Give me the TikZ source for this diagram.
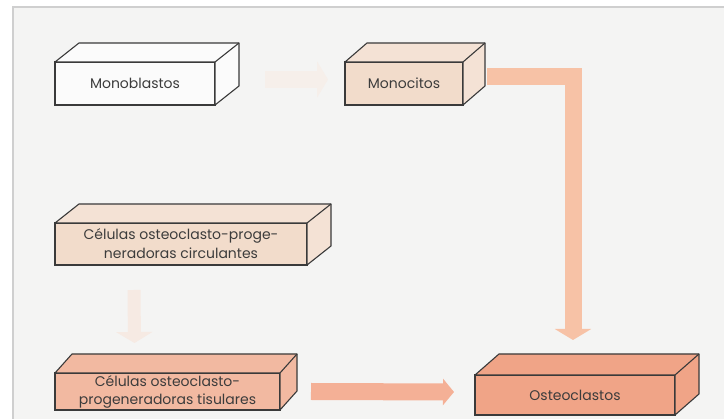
\documentclass[tikz,border=0pt]{standalone}
\usepackage{fontspec}
\setmainfont{Poppins}
\usetikzlibrary{calc,arrows.meta}
\definecolor{bg}{HTML}{F4F4F3}
\definecolor{frameline}{HTML}{CFCFCF}
\definecolor{edge}{HTML}{3A3A3A}
\definecolor{textc}{HTML}{3C3C3C}
\definecolor{boxwhite}{HTML}{FBFBFB}
\definecolor{peach}{HTML}{F2DCCB}
\definecolor{peachtop}{HTML}{F4E2D5}
\definecolor{salmonL}{HTML}{F2B9A1}
\definecolor{salmon}{HTML}{F0A487}
\definecolor{arrowA}{HTML}{F7C2A6}
\definecolor{arrowB}{HTML}{F4B096}
\definecolor{faintA}{HTML}{F6EFEA}
\definecolor{faintB}{HTML}{F6EAE3}
\tikzset{
  cube/.style={draw=edge, line width=1.1pt, rectangle, inner sep=2pt, outer sep=0pt,
    align=center, font=\fontsize{14}{19}\selectfont, text=textc},
  face/.style={draw=edge, line width=1.1pt, line join=round},
  flow/.style={line width=17pt, -{Triangle[width=36pt,length=11pt]}},
}
\newcommand\cubeback[4]{%
  \filldraw[face, fill=#4] (#1.north west) -- ++(#2,#3) -- ($(#1.north east)+(#2,#3)$)
    -- ($(#1.south east)+(#2,#3)$) -- (#1.south east) -- (#1.north east) -- cycle;
  \draw[face] (#1.north east) -- ++(#2,#3);
}
\begin{document}
\begin{tikzpicture}[x=1pt,y=-1pt]
\useasboundingbox (0,0) rectangle (724,419);
\fill[white] (0,0) rectangle (724,419);
\fill[bg] (13,7) rectangle (724,419);
\draw[frameline, line width=1.6pt] (13,419) -- (13,7) -- (724,7);

% boxes
\node[cube, fill=boxwhite, minimum width=160pt, minimum height=43pt] (mb) at (135,83.5) {Monoblastos};
\cubeback{mb}{24}{-19}{boxwhite}
\node[cube, fill=peach, minimum width=118pt, minimum height=43pt] (mc) at (404,83.5) {Monocitos};
\cubeback{mc}{22}{-19}{peachtop}
\node[cube, fill=peach, minimum width=252pt, minimum height=42pt] (cc) at (181,244) {Células osteoclasto-proge-\\neradoras circulantes};
\cubeback{cc}{24}{-19}{peachtop}
\node[cube, fill=salmonL, minimum width=225pt, minimum height=37pt, font=\fontsize{14}{18}\selectfont] (ct) at (167.5,391.5) {Células osteoclasto-\\progeneradoras tisulares};
\cubeback{ct}{17}{-19}{salmonL}
\node[cube, fill=salmon, minimum width=200pt, minimum height=40pt] (os) at (575,395) {Osteoclastos};
\cubeback{os}{24}{-21}{salmon}

% connectors
\coordinate (mbout) at ($(mb.east)+(50,-4)$);
\coordinate (mcin) at ($(mc.west)+(-17,-4)$);
\draw[flow, faintA] (mbout) -- (mcin);

\coordinate (ccout) at ($(cc.south)+(-47,25)$);
\coordinate (ctin) at ($(ct.north)+(-33,-30)$);
\draw[flow, faintB, line width=13pt] (ccout) -- (ctin);

\coordinate (mcout) at ($(mc.east)+(24,-6.5)$);
\coordinate (osin) at ($(os.north)+(-2,-35)$);
\draw[flow, arrowA] (mcout) -| (osin);

\coordinate (ctout) at ($(ct.east)+(31,0)$);
\coordinate (osleft) at ($(os.west)+(-21,-3)$);
\draw[flow, arrowB, -{Triangle[width=26pt,length=11pt]}] (ctout) -- (osleft);
\end{tikzpicture}
\end{document}
